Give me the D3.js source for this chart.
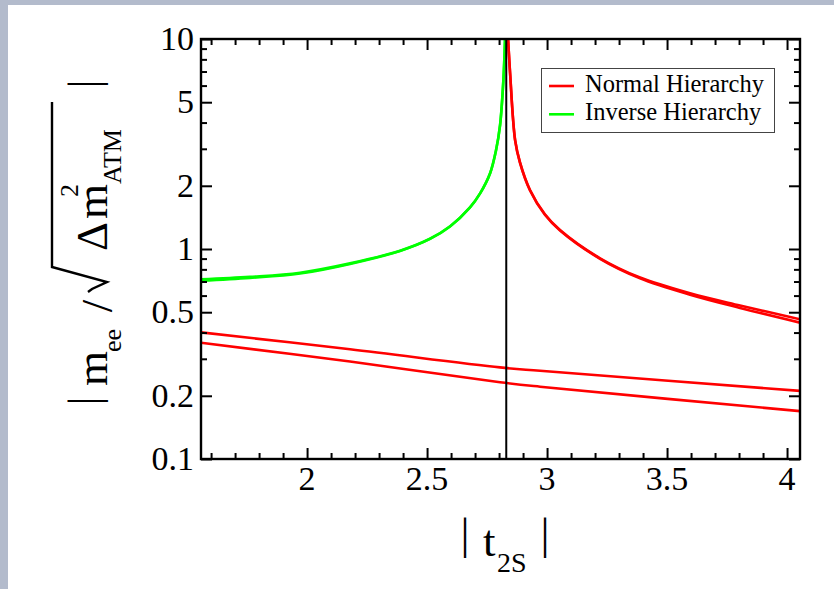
<!DOCTYPE html>
<html>
<head>
<meta charset="utf-8">
<script src="https://cdn.jsdelivr.net/npm/d3@7.9.0/dist/d3.min.js"></script>
<style>
  html, body { margin: 0; padding: 0; background: #b3bbcc; }
  svg { display: block; }
  text { font-family: "Liberation Serif", "Times New Roman", serif; fill: #000; }
</style>
</head>
<body>
<svg id="chart" width="834" height="589"></svg>
<script>
// values
const xTicks = [2, 2.5, 3, 3.5, 4];
const yTicks = [0.1, 0.2, 0.5, 1, 2, 5, 10];
const yTickLabels = ['0.1', '0.2', '0.5', '1', '2', '5', '10'];
const poleT = 2.83;

// inverse hierarchy (two nearly equal curves, left of the pole)
const invT = [1.558, 1.762, 1.971, 2.179, 2.3875, 2.512, 2.596, 2.679, 2.721, 2.7625, 2.7875, 2.8042, 2.818, 2.825];
const invA = [0.717, 0.737, 0.771, 0.854, 0.982, 1.119, 1.283, 1.579, 1.841, 2.293, 2.96, 3.9, 6.38, 10];
const invB = [0.706, 0.728, 0.764, 0.849, 0.979, 1.117, 1.281, 1.577, 1.839, 2.29, 2.95, 3.88, 6.35, 10];

// normal hierarchy, upper pair (right of the pole)
const nhUpT = [2.8375, 2.846, 2.867, 2.887, 2.929, 2.991, 3.054, 3.221, 3.3875, 3.596, 3.804, 4.054];
const nhUpA = [10, 6.88, 3.3, 2.59, 1.91, 1.463, 1.231, 0.903, 0.731, 0.615, 0.538, 0.463];
const nhUpB = [10, 6.85, 3.28, 2.58, 1.9, 1.455, 1.225, 0.898, 0.725, 0.606, 0.524, 0.446];

// normal hierarchy, lower pair (whole range)
const nhLowT = [1.558, 2.179, 2.804, 2.971, 4.054];
const nhLowA = [0.401, 0.333, 0.273, 0.263, 0.211];
const nhLowB = [0.358, 0.291, 0.232, 0.221, 0.169];

const legendItems = [
  { label: 'Normal Hierarchy', color: '#ff0000' },
  { label: 'Inverse Hierarchy', color: '#00ff00' },
];

const svg = d3.select('#chart');

// white page inside the grey frame
svg.append('rect').attr('x', 8).attr('y', 5).attr('width', 826).attr('height', 584).attr('fill', '#fff');

const plot = { left: 201, right: 800, top: 39, bottom: 459 };

const x = d3.scaleLinear().domain([1.558, 4.054]).range([plot.left, plot.right]);
const y = d3.scaleLog().domain([0.1, 10]).range([plot.bottom, plot.top]);

svg.append('clipPath').attr('id', 'clip')
  .append('rect')
  .attr('x', plot.left).attr('y', plot.top)
  .attr('width', plot.right - plot.left).attr('height', plot.bottom - plot.top);

const line = d3.line()
  .x((d) => x(d[0]))
  .y((d) => y(d[1]))
  .curve(d3.curveCatmullRom.alpha(0.5));

const series = [
  { t: nhLowT, v: nhLowA, color: '#ff0000' },
  { t: nhLowT, v: nhLowB, color: '#ff0000' },
  { t: nhUpT, v: nhUpA, color: '#ff0000' },
  { t: nhUpT, v: nhUpB, color: '#ff0000' },
  { t: invT, v: invA, color: '#00ff00' },
  { t: invT, v: invB, color: '#00ff00' },
];

const curves = svg.append('g').attr('clip-path', 'url(#clip)');
curves.selectAll('path')
  .data(series)
  .join('path')
  .attr('d', (s) => line(d3.zip(s.t, s.v)))
  .attr('fill', 'none')
  .attr('stroke', (s) => s.color)
  .attr('stroke-width', 2.6);

// vertical line at the pole
svg.append('line')
  .attr('x1', x(poleT)).attr('x2', x(poleT))
  .attr('y1', plot.top).attr('y2', plot.bottom)
  .attr('stroke', '#000').attr('stroke-width', 2);

// frame ticks on all four sides, pointing inward
const majorLen = 11, minorLen = 6;
const xMinor = d3.range(16, 41).map((d) => d / 10).filter((d) => !xTicks.includes(d));
const yMinor = [0.3, 0.4, 0.6, 0.7, 0.8, 0.9, 3, 4, 6, 7, 8, 9];

function axisPair(gen, scale, ticks, len, pos) {
  svg.append('g')
    .attr('transform', pos)
    .call(gen(scale).tickValues(ticks).tickSize(len).tickFormat(''))
    .call((g) => g.select('.domain').remove())
    .call((g) => g.selectAll('line').attr('stroke', '#000').attr('stroke-width', 2));
}

axisPair(d3.axisTop, x, xTicks, majorLen, `translate(0,${plot.bottom})`);
axisPair(d3.axisTop, x, xMinor, minorLen, `translate(0,${plot.bottom})`);
axisPair(d3.axisBottom, x, xTicks, majorLen, `translate(0,${plot.top})`);
axisPair(d3.axisBottom, x, xMinor, minorLen, `translate(0,${plot.top})`);
axisPair(d3.axisRight, y, yTicks, majorLen, `translate(${plot.left},0)`);
axisPair(d3.axisRight, y, yMinor, minorLen, `translate(${plot.left},0)`);
axisPair(d3.axisLeft, y, yTicks, majorLen, `translate(${plot.right},0)`);
axisPair(d3.axisLeft, y, yMinor, minorLen, `translate(${plot.right},0)`);

// frame
svg.append('rect')
  .attr('x', plot.left).attr('y', plot.top)
  .attr('width', plot.right - plot.left).attr('height', plot.bottom - plot.top)
  .attr('fill', 'none').attr('stroke', '#000').attr('stroke-width', 2.4);

// tick labels
svg.append('g').selectAll('text')
  .data(xTicks)
  .join('text')
  .attr('x', (d) => x(d))
  .attr('y', 490)
  .attr('text-anchor', 'middle')
  .attr('font-size', 34)
  .text((d) => d);

svg.append('g').selectAll('text')
  .data(yTicks)
  .join('text')
  .attr('x', 194)
  .attr('y', (d) => y(d) + 11)
  .attr('text-anchor', 'end')
  .attr('font-size', 34)
  .text((d, i) => yTickLabels[i]);

// legend
const legend = svg.append('g');
legend.append('rect')
  .attr('x', 541.5).attr('y', 68.5).attr('width', 233).attr('height', 64)
  .attr('fill', '#fff').attr('stroke', '#444').attr('stroke-width', 1);
legendItems.forEach((item, i) => {
  const cy = 86 + i * 28.3;
  legend.append('line')
    .attr('x1', 549).attr('x2', 574).attr('y1', cy).attr('y2', cy)
    .attr('stroke', item.color).attr('stroke-width', 2.6);
  legend.append('text')
    .attr('x', 585).attr('y', cy + 6)
    .attr('font-size', 24.5)
    .text(item.label);
});

// x axis label  | t_2S |
const xl = svg.append('g');
xl.append('text').attr('x', 465).attr('y', 549).attr('text-anchor', 'middle').attr('font-size', 45).text('|');
xl.append('text').attr('x', 483).attr('y', 556).attr('font-size', 45).text('t');
xl.append('text').attr('x', 497).attr('y', 572).attr('font-size', 28).text('2S');
xl.append('text').attr('x', 545).attr('y', 549).attr('text-anchor', 'middle').attr('font-size', 45).text('|');

// y axis label  | m_ee / sqrt(Δm^2_ATM) |   (rotated pieces)
const yl = svg.append('g');
function rot(txt, bx, sy, size, anchor) {
  yl.append('text')
    .attr('transform', `translate(${bx},${sy}) rotate(-90)`)
    .attr('text-anchor', anchor || 'start')
    .attr('font-size', size)
    .text(txt);
}
rot('|', 99, 401, 45, 'middle');
rot('m', 107, 386, 45);
rot('ee', 121, 352, 26);
rot('/', 112, 306, 45, 'middle');
rot('\u0394', 107, 251, 45);
rot('m', 107, 219, 45);
rot('2', 78, 197, 26);
rot('ATM', 121, 184, 26);
rot('|', 99, 84, 45, 'middle');

// radical sign
yl.append('path')
  .attr('d', 'M88,292 L92,289 L107,282 L52,267 L52,102')
  .attr('fill', 'none').attr('stroke', '#000').attr('stroke-width', 2.4)
  .attr('stroke-linejoin', 'miter');
</script>
</body>
</html>
